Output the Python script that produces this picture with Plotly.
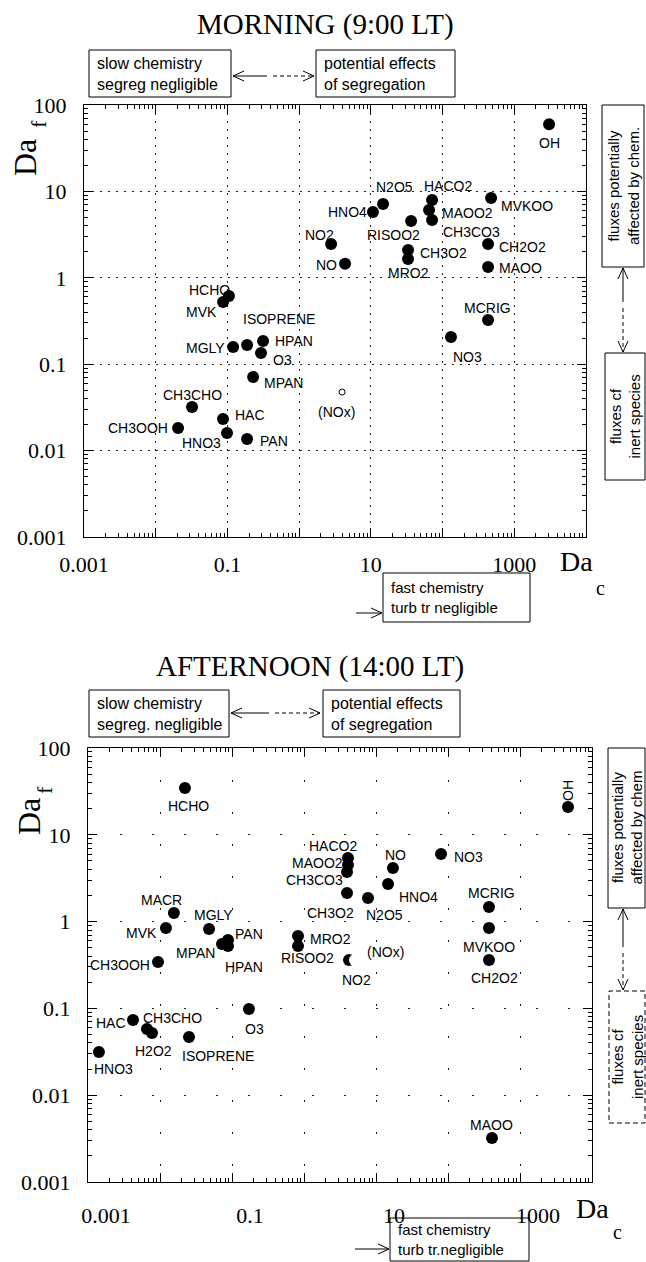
import numpy as np
import plotly.graph_objects as go

W, H = 646, 1262

# ---------------- data ----------------
# MORNING (9:00 LT): Da_c (x) and Da_f (y) per species
am_species = ["OH", "N2O5", "HNO4", "HACO2", "MAOO2", "CH3CO3", "RISOO2", "CH3O2", "MRO2",
              "NO2", "NO", "MVKOO", "CH2O2", "MAOO", "MCRIG", "NO3", "HCHO", "MVK", "MGLY",
              "ISOPRENE", "HPAN", "O3", "MPAN", "CH3CHO", "CH3OOH", "HAC", "HNO3", "PAN"]
am_dac = [3055, 14.8, 10.7, 71.4, 64.8, 71.4, 36.4, 33.0, 33.0,
          2.79, 4.37, 475, 431, 431, 431, 131, 0.105, 0.087, 0.120,
          0.188, 0.314, 0.294, 0.228, 0.0321, 0.0205, 0.0868, 0.0987, 0.188]
am_daf = [60, 7.15, 5.78, 7.94, 6.09, 4.67, 4.55, 2.10, 1.65,
          2.46, 1.45, 8.40, 2.46, 1.33, 0.325, 0.206, 0.615, 0.525, 0.158,
          0.167, 0.186, 0.135, 0.0711, 0.032, 0.0183, 0.0232, 0.016, 0.0136]
am_nox_dac = [3.97]
am_nox_daf = [0.0476]

# AFTERNOON (14:00 LT)
pm_species = ["HCHO", "MACR", "MVK", "MGLY", "PAN", "MPAN", "HPAN", "CH3OOH", "HACO2", "MAOO2",
              "CH3CO3", "CH3O2", "N2O5", "NO", "HNO4", "NO3", "MCRIG", "MVKOO", "CH2O2", "OH",
              "MRO2", "RISOO2", "NO2", "O3", "HAC", "CH3CHO", "H2O2", "ISOPRENE", "HNO3", "MAOO"]
pm_dac = [0.0222, 0.0156, 0.0121, 0.048, 0.088, 0.0726, 0.088, 0.00938, 4.08, 4.08,
          3.96, 3.96, 7.74, 17.2, 14.7, 80, 371, 371, 371, 4640,
          0.826, 0.826, 4.22, 0.172, 0.00422, 0.00659, 0.00774, 0.0253, 0.00142, 408]
pm_daf = [34.6, 1.26, 0.843, 0.822, 0.614, 0.552, 0.524, 0.343, 5.41, 4.49,
          3.73, 2.13, 1.87, 4.15, 2.71, 6.01, 1.47, 0.843, 0.361, 20.9,
          0.683, 0.524, 0.361, 0.0984, 0.0734, 0.0580, 0.0521, 0.0469, 0.0315, 0.00321]
pm_nox_dac = [5.1]
pm_nox_daf = [0.361]

x_tickvals = [0.001, 0.01, 0.1, 1, 10, 100, 1000, 10000]
x_ticktext = ["0.001", "", "0.1", "", "10", "", "1000", ""]
y_tickvals = [0.001, 0.01, 0.1, 1, 10, 100]
y_ticktext = ["0.001", "0.01", "0.1", "1", "10", "100"]

# ---------------- label placement (layout only): anchor, dx, dy (screen px, down +) ----------------
AM_LAB = {
    "OH": ("center", 0, 19), "N2O5": ("center", 11, -17), "HNO4": ("right", -4, 0),
    "HACO2": ("center", 16, -14), "MAOO2": ("left", 11, 3), "CH3CO3": ("left", 9, 12),
    "RISOO2": ("center", -18, 14), "CH3O2": ("left", 10, 3), "MRO2": ("center", 0, 14),
    "NO2": ("center", -12, -9), "NO": ("right", -6, 1), "MVKOO": ("left", 8, 8),
    "CH2O2": ("left", 9, 3), "MAOO": ("left", 9, 1), "MCRIG": ("center", -1, -12),
    "NO3": ("center", 17, 20), "HCHO": ("center", -19, -6), "MVK": ("right", -4, 10),
    "MGLY": ("right", -6, 1), "ISOPRENE": ("center", 32, -26), "HPAN": ("left", 10, 0),
    "O3": ("left", 10, 7), "MPAN": ("left", 9, 6), "CH3CHO": ("center", 0, -12),
    "CH3OOH": ("right", -8, 0), "HAC": ("left", 10, -4), "HNO3": ("right", -4, 10),
    "PAN": ("left", 11, 2),
}
PM_LAB = {
    "HCHO": ("center", 4, 18), "MACR": ("center", -12, -13), "MVK": ("right", -7, 5),
    "MGLY": ("center", 4, -14), "PAN": ("left", 5, -6), "MPAN": ("right", -5, 9),
    "HPAN": ("center", 16, 21), "CH3OOH": ("right", -6, 3), "HACO2": ("center", -15, -12),
    "MAOO2": ("right", -3, -2), "CH3CO3": ("right", -2, 8), "CH3O2": ("center", -17, 20),
    "N2O5": ("center", 17, 17), "NO": ("center", 3, -13), "HNO4": ("left", 9, 13),
    "NO3": ("left", 11, 3), "MCRIG": ("center", 3, -14), "MVKOO": ("center", 0, 19),
    "CH2O2": ("center", 6, 18), "OH": ("center", 0, -17), "MRO2": ("left", 10, 3),
    "RISOO2": ("center", 9, 12), "NO2": ("center", 7, 20), "O3": ("center", 6, 20),
    "HAC": ("right", -5, 3), "CH3CHO": ("center", 26, -11), "H2O2": ("center", 2, 18),
    "ISOPRENE": ("center", 29, 19), "HNO3": ("center", 15, 17), "MAOO": ("center", 0, -13),
}

LBL_FONT = dict(family="Liberation Sans", size=14, color="black")
SERIF = "Liberation Serif"


def P(xp, yp):
    return xp / W, 1 - yp / H


fig = go.Figure()

# markers
fig.add_trace(go.Scatter(x=am_dac, y=am_daf, mode="markers", xaxis="x", yaxis="y",
                         marker=dict(size=12, color="black"), showlegend=False))
fig.add_trace(go.Scatter(x=am_nox_dac, y=am_nox_daf, mode="markers", xaxis="x", yaxis="y",
                         marker=dict(size=6, color="white", line=dict(color="black", width=1)),
                         showlegend=False))
fig.add_trace(go.Scatter(x=pm_dac, y=pm_daf, mode="markers", xaxis="x2", yaxis="y2",
                         marker=dict(size=12, color="black"), showlegend=False))
fig.add_trace(go.Scatter(x=pm_nox_dac, y=pm_nox_daf, mode="markers", xaxis="x2", yaxis="y2",
                         marker=dict(size=12, color="white", line=dict(width=0)),
                         showlegend=False))

ann = []
shapes = []


def add_labels(names, xs, ys, table, xr, yr):
    for n, xv, yv in zip(names, xs, ys):
        anc, dx, dy = table[n]
        a = dict(x=np.log10(xv), y=np.log10(yv), xref=xr, yref=yr, text=n, showarrow=False,
                 xanchor=anc, yanchor="middle", xshift=dx, yshift=-dy, font=LBL_FONT)
        if xr == "x2" and n == "OH":
            a["textangle"] = -90
        ann.append(a)


add_labels(am_species, am_dac, am_daf, AM_LAB, "x", "y")
add_labels(pm_species, pm_dac, pm_daf, PM_LAB, "x2", "y2")
ann.append(dict(x=np.log10(am_nox_dac[0]), y=np.log10(am_nox_daf[0]), xref="x", yref="y",
                text="(NOx)", showarrow=False, xshift=-6, yshift=-20, font=LBL_FONT))
ann.append(dict(x=np.log10(pm_nox_dac[0]), y=np.log10(pm_nox_daf[0]), xref="x2", yref="y2",
                text="(NOx)", showarrow=False, xshift=31, yshift=8, font=LBL_FONT))


def paper_text(xp, yp, text, size, family=SERIF, angle=0, xanchor="center", **kw):
    x, y = P(xp, yp)
    d = dict(x=x, y=y, xref="paper", yref="paper", text=text, showarrow=False,
             xanchor=xanchor, yanchor="middle", textangle=angle,
             font=dict(family=family, size=size, color="black"))
    d.update(kw)
    ann.append(d)


def rect(x0, y0, x1, y1, dash=False):
    x0p, y0p = P(x0, y0)
    x1p, y1p = P(x1, y1)
    shapes.append(dict(type="rect", xref="paper", yref="paper", x0=x0p, y0=y1p, x1=x1p, y1=y0p,
                       line=dict(color="black", width=1, dash="5px,3px" if dash else "solid")))


def hbox(x0, y0, x1, y1, text, size=16):
    paper_text(x0 + 6, (y0 + y1) / 2, text, size, family="Liberation Sans", xanchor="left",
               align="left")
    rect(x0, y0, x1, y1)


def vbox(x0, y0, x1, y1, text, size=15, dash=False):
    paper_text((x0 + x1) / 2, (y0 + y1) / 2, text, size, family="Liberation Sans", angle=-90,
               align="center")
    rect(x0, y0, x1, y1, dash)


def seg(xa, ya, xb, yb, dash=False):
    a = P(xa, ya)
    b = P(xb, yb)
    shapes.append(dict(type="line", xref="paper", yref="paper", x0=a[0], y0=a[1], x1=b[0], y1=b[1],
                       line=dict(color="black", width=1, dash="4px,3px" if dash else "solid")))


def head(x, y, direction):
    L, S = 11, 5
    if direction == "left":
        pts = [(x + L, y - S), (x, y), (x + L, y + S)]
    elif direction == "right":
        pts = [(x - L, y - S), (x, y), (x - L, y + S)]
    elif direction == "up":
        pts = [(x - S, y + L), (x, y), (x + S, y + L)]
    else:
        pts = [(x - S, y - L), (x, y), (x + S, y - L)]
    for (xa, ya), (xb, yb) in zip(pts[:-1], pts[1:]):
        seg(xa, ya, xb, yb)


def hdouble(x0, x1, y, mid):
    head(x0, y, "left")
    seg(x0, y, mid - 3, y)
    seg(mid + 3, y, x1, y, dash=True)
    head(x1, y, "right")


def vdouble(x, y0, y1, mid):
    head(x, y0, "up")
    seg(x, y0, x, mid - 3)
    seg(x, mid + 3, x, y1, dash=True)
    head(x, y1, "down")


# ---- morning decorations ----
paper_text(325, 25, "MORNING (9:00 LT)", 29)
hbox(89, 50, 231, 97, "slow chemistry<br>segreg negligible")
hbox(316, 50, 455, 97, "potential effects<br>of segregation")
hdouble(233, 314, 76, 270)
vbox(602, 105, 644, 267, "fluxes potentially<br>affected by chem.")
vbox(605, 353, 645, 480, "fluxes cf<br>inert species")
vdouble(623, 268, 352, 305)
hbox(383, 573, 530, 622, "fast chemistry<br>turb tr negligible", size=15)
seg(356, 613, 381, 613)
head(382, 613, "right")
paper_text(558, 561, "Da", 28, xanchor="left")
paper_text(600, 588, "c", 20)
paper_text(25, 158, "Da", 32, angle=-90)
paper_text(39, 124, "f", 22, angle=-90)

# ---- afternoon decorations ----
paper_text(310, 666, "AFTERNOON (14:00 LT)", 29)
hbox(89, 690, 229, 737, "slow chemistry<br>segreg. negligible")
hbox(323, 690, 460, 737, "potential effects<br>of segregation")
hdouble(231, 320, 713, 272)
vbox(608, 748, 645, 908, "fluxes potentially<br>affected by chem")
vbox(609, 991, 645, 1123, "fluxes cf<br>inert species", dash=True)
vdouble(623, 909, 990, 950)
hbox(390, 1218, 529, 1261, "fast chemistry<br>turb tr.negligible", size=15)
seg(355, 1249, 388, 1249)
head(389, 1249, "right")
paper_text(574, 1208, "Da", 28, xanchor="left")
paper_text(617, 1232, "c", 20)
paper_text(29, 817, "Da", 32, angle=-90)
paper_text(44, 790, "f", 22, angle=-90)


def minor_vals(k0, k1):
    return [m * 10.0 ** k for k in range(k0, k1) for m in range(2, 10)]


def axis(domain, anchor, rng, tv, tt, minors, dash, standoff, shift=0):
    return dict(type="log", domain=domain, anchor=anchor, range=rng, automargin=False,
                tickmode="array", tickvals=tv, ticktext=tt,
                showline=True, linecolor="black", linewidth=1, mirror="allticks",
                ticks="inside", ticklen=9, tickwidth=1, tickcolor="black",
                showgrid=True, gridcolor="#222", gridwidth=1, griddash=dash,
                zeroline=False, ticklabelstandoff=standoff, ticklabelshift=shift,
                tickfont=dict(family=SERIF, size=22, color="black"),
                minor=dict(tickmode="array", tickvals=minors, ticks="inside", ticklen=4,
                           tickwidth=1, tickcolor="black", showgrid=False))


fig.update_layout(
    width=W, height=H, margin=dict(l=0, r=0, t=0, b=0, autoexpand=False),
    paper_bgcolor="white", plot_bgcolor="white", showlegend=False,
    xaxis=axis([84 / W, 586 / W], "y", [-3, 4], x_tickvals, x_ticktext, minor_vals(-3, 4),
               "2px,6px", 8),
    yaxis=axis([1 - 537 / H, 1 - 105 / H], "x", [-3, 2], y_tickvals, y_ticktext, minor_vals(-3, 2),
               "2px,6px", 12),
    xaxis2=axis([88 / W, 592 / W], "y2", [-3, 4], x_tickvals, x_ticktext, minor_vals(-3, 4),
                "2px,30px", 14, shift=18),
    yaxis2=axis([1 - 1182 / H, 1 - 748 / H], "x2", [-3, 2], y_tickvals, y_ticktext,
                minor_vals(-3, 2), "2px,30px", 12),
    annotations=ann, shapes=shapes,
)

fig.write_html("out.html")
